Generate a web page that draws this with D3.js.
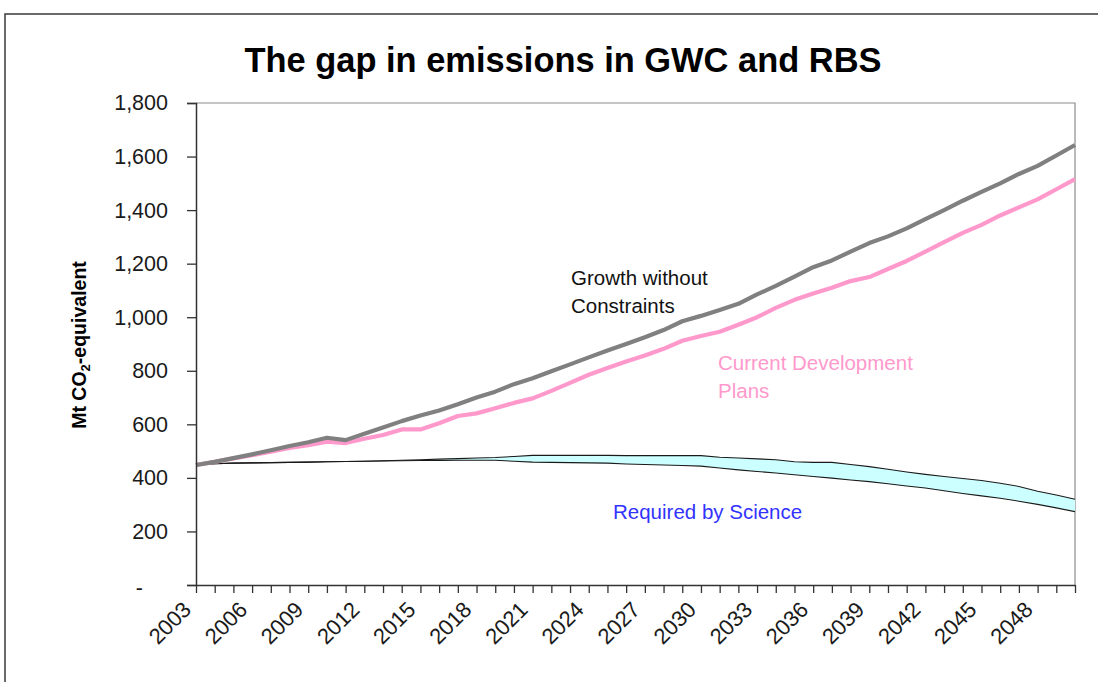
<!DOCTYPE html>
<html>
<head>
<meta charset="utf-8">
<script src="https://cdn.jsdelivr.net/npm/d3@7/dist/d3.min.js"></script>
<style>
  html, body { margin: 0; padding: 0; background: #fff; }
  svg { display: block; font-family: "Liberation Sans", Arial, Helvetica, sans-serif; }
</style>
</head>
<body>
<svg id="chart" width="1098" height="682"></svg>
<script>
// Years on the category axis
const years = d3.range(2003, 2051);

// Growth without Constraints (Mt CO2-equivalent)
const growthWithoutConstraints = [
  448, 460, 474, 488, 503, 519, 533, 550, 541, 565,
  588, 612, 633, 652, 675, 700, 722, 750, 772, 798,
  824, 850, 876, 900, 925, 952, 985, 1005, 1027, 1050,
  1085, 1117, 1152, 1187, 1212, 1245, 1277, 1302, 1332, 1366,
  1400, 1435, 1468, 1500, 1535, 1565, 1604, 1643
];

// Current Development Plans (Mt CO2-equivalent)
const currentDevelopmentPlans = [
  448, 460, 473, 485, 498, 512, 522, 535, 530, 546,
  560, 581, 581, 604, 631, 641, 660, 680, 697, 725,
  755, 785, 810, 835, 857, 882, 912, 930, 946, 972,
  1000, 1035, 1065, 1089, 1110, 1135, 1150, 1180, 1210, 1245,
  1280, 1315, 1345, 1380, 1410, 1440, 1478, 1516
];

// Required by Science: lower and upper bound of the band
const scienceLower = [
  448, 453, 455, 456, 457, 458, 459, 460, 461, 462,
  463, 464, 465, 465, 466, 466, 466, 462, 459, 458,
  457, 456, 455, 452, 450, 448, 446, 444, 437, 430,
  424, 418, 412, 405, 399, 392, 386, 378, 370, 362,
  352, 342, 333, 324, 313, 301, 288, 274
];
const scienceUpper = [
  448, 453, 455, 456, 457, 458, 459, 460, 461, 462,
  464, 466, 468, 470, 472, 474, 476, 480, 484, 484,
  484, 484, 484, 483, 483, 483, 483, 483, 477, 474,
  471, 468, 460, 458, 458, 450, 442, 432, 422, 413,
  405, 398, 390, 380, 368, 350, 336, 320
];

// Axis ticks and labels
const yTicks = d3.range(0, 1801, 200);
const xLabelYears = d3.range(2003, 2049, 3);

const title = "The gap in emissions in GWC and RBS";
const yTitle = ["Mt CO", "2", "-equivalent"];
const seriesLabels = {
  growth: ["Growth without", "Constraints"],
  current: ["Current Development", "Plans"],
  science: ["Required by Science"]
};

const svg = d3.select("#chart");
const plot = { left: 196, right: 1075, top: 103, bottom: 585 };

const x = d3.scalePoint().domain(years).range([plot.left, plot.right]);
const y = d3.scaleLinear().domain([0, 1800]).range([plot.bottom, plot.top]);

// Outer frame
svg.append("path")
  .attr("d", `M5,682 L5,14 L1098,14`)
  .attr("fill", "none").attr("stroke", "#3a3a3a").attr("stroke-width", 1.5);

// Title
svg.append("text")
  .attr("x", 563).attr("y", 72)
  .attr("text-anchor", "middle")
  .attr("font-size", 35).attr("font-weight", "bold")
  .attr("textLength", 637).attr("lengthAdjust", "spacingAndGlyphs")
  .attr("fill", "#000")
  .text(title);

// Plot area border (top and right)
svg.append("path")
  .attr("d", `M${plot.left},${plot.top} L${plot.right},${plot.top} L${plot.right},${plot.bottom}`)
  .attr("fill", "none").attr("stroke", "#8c8c8c").attr("stroke-width", 1.2);

// Required by Science band
const rows = years.map((yr, i) => ({ yr, lo: scienceLower[i], hi: scienceUpper[i] }));
svg.append("path")
  .datum(rows)
  .attr("fill", "#ccffff")
  .attr("d", d3.area().x(d => x(d.yr)).y0(d => y(d.lo)).y1(d => y(d.hi)));
[scienceLower, scienceUpper].forEach(vals => {
  svg.append("path")
    .datum(vals)
    .attr("fill", "none").attr("stroke", "#1a1a1a").attr("stroke-width", 1.1)
    .attr("d", d3.line().x((d, i) => x(years[i])).y(d => y(d)));
});

// Emission lines
const line = d3.line().x((d, i) => x(years[i])).y(d => y(d));
svg.append("path").datum(currentDevelopmentPlans)
  .attr("fill", "none").attr("stroke", "#ff99cc").attr("stroke-width", 4.2)
  .attr("stroke-linejoin", "round").attr("d", line);
svg.append("path").datum(growthWithoutConstraints)
  .attr("fill", "none").attr("stroke", "#808080").attr("stroke-width", 4.2)
  .attr("stroke-linejoin", "round").attr("d", line);

// Y axis
const yAxis = svg.append("g")
  .attr("transform", `translate(${plot.left},0)`)
  .call(d3.axisLeft(y).tickValues(yTicks).tickSize(9).tickPadding(19)
    .tickFormat(d => d === 0 ? "-" : d3.format(",")(d)));
yAxis.select(".domain").attr("stroke", "#333").attr("stroke-width", 1.5);
yAxis.selectAll(".tick line").attr("stroke", "#333").attr("stroke-width", 1.3);
yAxis.selectAll(".tick text")
  .attr("font-size", 21.5).attr("fill", "#1a1a1a")
  .attr("font-family", "Liberation Sans, Arial, sans-serif")
  .filter(d => d === 0).attr("x", -53).attr("dy", "0.45em");

// X axis
const xAxis = svg.append("g")
  .attr("transform", `translate(0,${plot.bottom})`)
  .call(d3.axisBottom(x).tickSize(8).tickSizeOuter(0)
    .tickFormat(d => xLabelYears.includes(d) ? String(d) : ""));
xAxis.select(".domain").attr("stroke", "#333").attr("stroke-width", 1.5);
xAxis.selectAll(".tick line").attr("stroke", "#333").attr("stroke-width", 1.3);
xAxis.selectAll(".tick text")
  .attr("font-size", 22).attr("fill", "#1a1a1a")
  .attr("font-family", "Liberation Sans, Arial, sans-serif")
  .attr("text-anchor", "end")
  .attr("y", 0).attr("dy", 0)
  .attr("transform", "translate(-4,26) rotate(-45)");

// Y axis title
const yt = svg.append("text")
  .attr("transform", "translate(86,345) rotate(-90)")
  .attr("text-anchor", "middle")
  .attr("font-size", 19.5).attr("font-weight", "bold").attr("fill", "#000");
yt.append("tspan").text(yTitle[0]);
yt.append("tspan").attr("font-size", 13).attr("dy", 4).text(yTitle[1]);
yt.append("tspan").attr("dy", -4).text(yTitle[2]);

// Series annotations
function annotate(lines, x0, y0, color) {
  const t = svg.append("text").attr("font-size", 20.5).attr("fill", color);
  lines.forEach((s, i) => t.append("tspan").attr("x", x0).attr("y", y0 + i * 28).text(s));
}
annotate(seriesLabels.growth, 571, 285, "#111");
annotate(seriesLabels.current, 718, 370, "#ff99cc");
annotate(seriesLabels.science, 613, 519, "#3333ff");
</script>
</body>
</html>
